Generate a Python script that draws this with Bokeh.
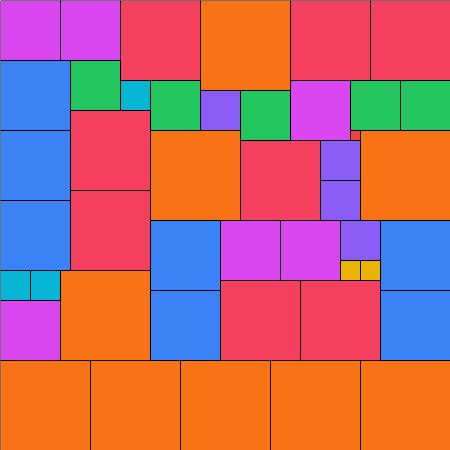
from bokeh.plotting import figure
from bokeh.models import Range1d, ColumnDataSource
from bokeh.embed import file_html
from bokeh.resources import INLINE

# Partridge packing: n squares of side n, n = 1..9, in a 45x45 square
sizes = [6, 6, 8, 9, 8, 8,
         7, 5, 3, 5, 4, 5, 6, 5, 5, 1,
         7, 8, 9, 8, 4, 4, 9,
         7, 8, 7, 6, 6, 4, 2, 2, 7,
         3, 3, 6, 9, 7, 8, 8, 7,
         9, 9, 9, 9, 9]
xs = [0, 6, 12, 20, 29, 37,
      0, 7, 12, 15, 20, 24, 29, 35, 40, 35,
      0, 7, 15, 24, 32, 32, 36,
      0, 7, 15, 22, 28, 34, 34, 36, 38,
      0, 3, 0, 6, 15, 22, 30, 38,
      0, 9, 18, 27, 36]
ys = [0, 0, 0, 0, 0, 0,
      6, 6, 8, 8, 9, 9, 8, 8, 8, 13,
      13, 11, 13, 14, 14, 18, 13,
      20, 19, 22, 22, 22, 22, 26, 26, 22,
      27, 27, 30, 27, 29, 28, 28, 29,
      36, 36, 36, 36, 36]

size_colors = {1: "#ef4444", 2: "#eab308", 3: "#06b6d4", 4: "#8b5cf6",
               5: "#22c55e", 6: "#d946ef", 7: "#3b82f6", 8: "#f43f5e",
               9: "#f97316"}

src = ColumnDataSource(dict(
    left=xs,
    right=[x + s for x, s in zip(xs, sizes)],
    top=ys,
    bottom=[y + s for y, s in zip(ys, sizes)],
    color=[size_colors[s] for s in sizes],
))

p = figure(width=450, height=450, output_backend="svg", toolbar_location=None,
           x_range=Range1d(0, 45), y_range=Range1d(45, 0), min_border=0)
p.axis.visible = False
p.grid.visible = False
p.outline_line_color = None
p.background_fill_color = "white"
p.border_fill_color = "white"

p.quad(left="left", right="right", top="top", bottom="bottom", source=src,
       fill_color="color", line_color="black", line_width=1)

open("out.html", "w").write(file_html(p, INLINE))
